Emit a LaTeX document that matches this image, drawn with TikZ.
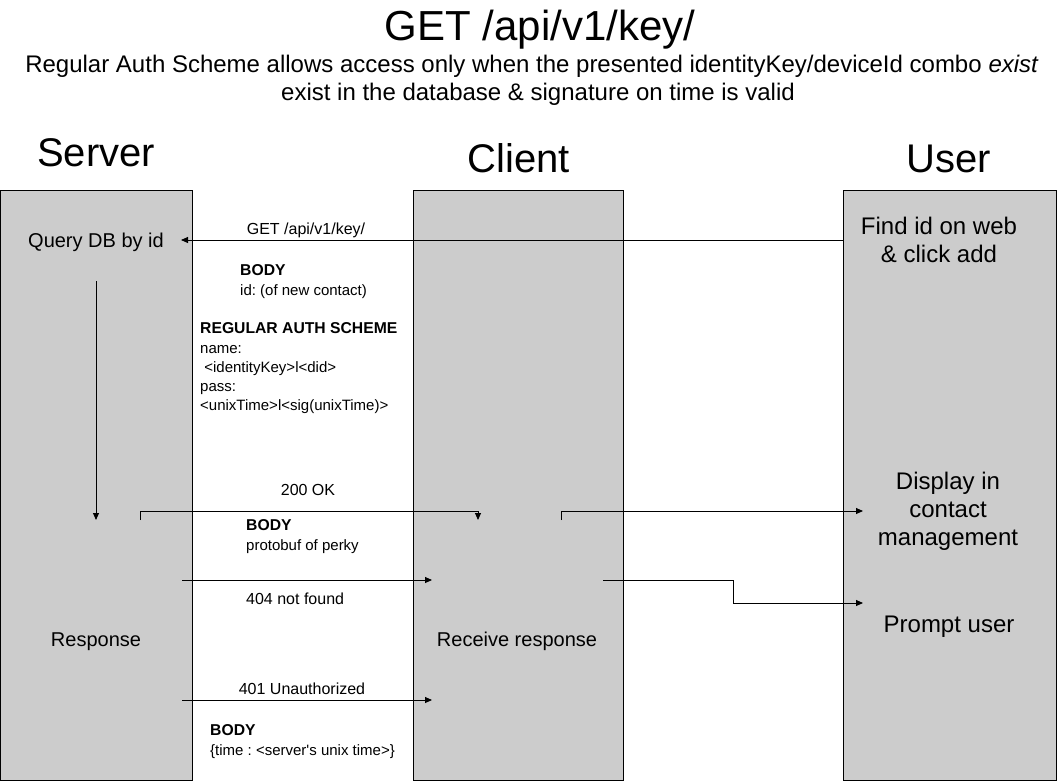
\documentclass[tikz,border=0pt]{standalone}
\usepackage{fontspec}
\setmainfont{Liberation Sans}[Ligatures=TeXOff]
\usetikzlibrary{arrows.meta}
\definecolor{lanegray}{HTML}{CCCCCC}
\frenchspacing
\begin{document}
\begin{tikzpicture}[x=1pt,y=-1pt,
  lane/.style={draw=black,fill=lanegray,line width=0.9pt},
  msg/.style={-{Triangle[length=7pt,width=6pt]},line width=0.9pt},
  txt/.style={inner sep=0pt,anchor=base west,font=\fontsize{15}{17}\selectfont},
  btxt/.style={txt,font=\fontsize{15.7}{17}\selectfont\bfseries},
  lbl/.style={inner sep=0pt,anchor=base,font=\fontsize{16}{18}\selectfont},
  big/.style={inner sep=0pt,anchor=base,font=\fontsize{24}{26}\selectfont},
  mid/.style={inner sep=0pt,anchor=base,font=\fontsize{20}{22}\selectfont},
  head/.style={inner sep=0pt,anchor=base,font=\fontsize{40}{42}\selectfont}]
\useasboundingbox (0,0) rectangle (1057,782);
\fill[white] (0,0) rectangle (1057,782);
% lanes
\draw[lane] (0.5,190) rectangle (192,780.5);
\draw[lane] (413,190) rectangle (623,780.5);
\draw[lane] (843,190) rectangle (1056.5,780.5);
% titles
\node[inner sep=0pt,anchor=base,font=\fontsize{42}{44}\selectfont] (title) at (540,40) {GET /api/v1/key/};
\node[big] (sub1) at (532,72) {Regular Auth Scheme allows access only when the presented identityKey/deviceId combo \textit{exist}};
\node[big] (sub2) at (538,100) {exist in the database \& signature on time is valid};
\node[head] (server) at (96,166) {Server};
\node[head] (client) at (519,172) {Client};
\node[head] (user) at (949,172) {User};
% lane texts
\node[mid] (query) at (96,247) {Query DB by id};
\node[big] (find1) at (939,234) {Find id on web};
\node[big] (find2) at (939,262) {\& click add};
\node[big] (disp1) at (948,489) {Display in};
\node[big] (disp2) at (948,517) {contact};
\node[big] (disp3) at (948,545) {management};
\node[big] (prompt) at (949,632) {Prompt user};
\node[mid] (resp) at (96,646) {Response};
\node[mid] (recv) at (517,646) {Receive response};
% message labels
\node[lbl] (getlbl) at (306,234) {GET /api/v1/key/};
\node[btxt] (body1) at (240,275) {BODY};
\node[txt] (body1t) at (240,295) {id: (of new contact)};
\node[btxt] (auth) at (200,333) {REGULAR AUTH SCHEME};
\node[txt] (auth1) at (200,353) {name:};
\node[txt] (auth2) at (200,372) {\ <identityKey>l<did>};
\node[txt] (auth3) at (200,391) {pass:};
\node[txt] (auth4) at (200,410) {<unixTime>l<sig(unixTime)>};
\node[lbl] (oklbl) at (308,495) {200 OK};
\node[btxt] (body2) at (246,530) {BODY};
\node[txt] (body2t) at (246,550) {protobuf of perky};
\node[lbl,anchor=base west] (nflbl) at (246,604) {404 not found};
\node[lbl] (unlbl) at (302,694) {401 Unauthorized};
\node[btxt] (body3) at (210,735) {BODY};
\node[txt] (body3t) at (210,755) {\{time : <server's unix time>\}};
% connector end points
\coordinate (getS) at (843,240);
\coordinate (getE) at (181,240);
\coordinate (downS) at (96,281);
\coordinate (downE) at (96,520);
\coordinate (okS) at (140,520);
\coordinate (okE) at (478,520);
\coordinate (cuS) at (561,520);
\coordinate (cuE) at (863,511);
\coordinate (nfS) at (182,580);
\coordinate (nfE) at (432,580);
\coordinate (nuS) at (603,580);
\coordinate (nuE) at (863,603);
\coordinate (unS) at (182,700);
\coordinate (unE) at (432,700);
% connectors
\draw[msg] (getS) -- (getE);
\draw[msg] (downS) -- (downE);
\draw[msg] (okS) -- ++(0,-9) -| (okE);
\draw[msg] (cuS) |- (cuE);
\draw[msg] (nfS) -- (nfE);
\draw[msg] (nuS) -- (733,580) |- (nuE);
\draw[msg] (unS) -- (unE);
\end{tikzpicture}
\end{document}
